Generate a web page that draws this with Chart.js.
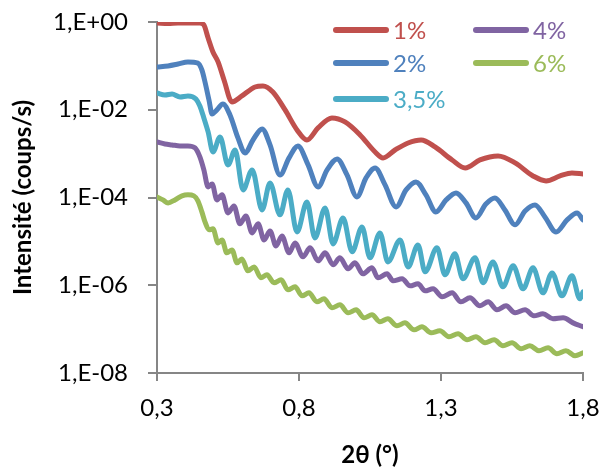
<!DOCTYPE html>
<html>
<head>
<meta charset="utf-8">
<script src="https://cdn.jsdelivr.net/npm/chart.js@4.4.1/dist/chart.umd.min.js"></script>
<style>
    html, body { margin: 0; padding: 0; background: #fff; }
    #wrap { width: 600px; height: 467px; }
</style>
</head>
<body>
<div id="wrap"><canvas id="xrrChart" width="600" height="467"></canvas></div>
<script>
// Series labels and colours (Excel palette)
const seriesLabels = ['1%', '2%', '3,5%', '4%', '6%'];
const seriesColors = ['#C0504D', '#4F81BD', '#4BACC6', '#8064A2', '#9BBB59'];

// Axis ticks
const xTickValues = [0.3, 0.8, 1.3, 1.8];
const xTickLabels = ['0,3', '0,8', '1,3', '1,8'];
const yTickValues = [1e-8, 1e-6, 1e-4, 1e-2, 1];
const yTickLabels = ['1,E-08', '1,E-06', '1,E-04', '1,E-02', '1,E+00'];

// 1 %
const x1 = [0.300, 0.339, 0.374, 0.416, 0.451, 0.465, 0.480, 0.497, 0.515, 0.536, 0.564, 0.599, 0.645, 0.673, 0.708, 0.751, 0.793, 0.828, 0.867, 0.916,
    0.962, 1.015, 1.068, 1.096, 1.138, 1.184, 1.230, 1.279, 1.339, 1.385, 1.437, 1.501, 1.561, 1.624, 1.670, 1.719, 1.761, 1.800];
const i1 = [0.95, 0.93, 0.95, 0.95, 0.95, 0.855, 0.432, 0.207, 0.123, 0.0477, 0.0151, 0.0206, 0.033, 0.0348, 0.0254, 0.00989, 0.00347, 0.00205, 0.00385, 0.0065,
    0.00527, 0.00267, 0.00109, 0.000798, 0.00121, 0.00175, 0.00205, 0.00142, 0.000718, 0.000472, 0.000718, 0.000887, 0.000614, 0.00031, 0.000239, 0.00031, 0.000363, 0.000345];

// 2 %
const x2 = [0.300, 0.339, 0.374, 0.409, 0.444, 0.458, 0.469, 0.483, 0.494, 0.511, 0.532, 0.557, 0.585, 0.610, 0.638, 0.670, 0.698, 0.733, 0.765, 0.796,
    0.832, 0.867, 0.899, 0.934, 0.969, 1.004, 1.036, 1.068, 1.103, 1.142, 1.177, 1.212, 1.247, 1.282, 1.318, 1.353, 1.388, 1.423, 1.458, 1.490,
    1.525, 1.561, 1.596, 1.631, 1.666, 1.705, 1.744, 1.779, 1.800];
const i2 = [0.0944, 0.0995, 0.110, 0.123, 0.116, 0.0807, 0.043, 0.0167, 0.00802, 0.00989, 0.0136, 0.00762, 0.00228, 0.00104, 0.00205, 0.00366, 0.00158, 0.000327, 0.000798, 0.0015,
    0.000553, 0.000174, 0.000426, 0.000757, 0.000327, 0.000103, 0.000279, 0.000472, 0.000194, 6.11e-5, 0.000149, 0.000226, 0.000115, 4.7e-5, 8.81e-5, 0.000127, 7.53e-5, 3.43e-5, 7.15e-5, 9.8e-5,
    5.22e-5, 2.38e-5, 4.95e-5, 6.78e-5, 3.61e-5, 1.64e-5, 3.09e-5, 4.46e-5, 3.09e-5];

// 3,5 %
const x35 = [0.300, 0.328, 0.353, 0.381, 0.409, 0.437, 0.451, 0.465, 0.480, 0.497, 0.522, 0.550, 0.575, 0.603, 0.635, 0.670, 0.698, 0.733, 0.761, 0.793,
    0.828, 0.856, 0.892, 0.920, 0.955, 0.987, 1.022, 1.050, 1.085, 1.113, 1.156, 1.184, 1.219, 1.244, 1.286, 1.314, 1.349, 1.377, 1.420, 1.448,
    1.483, 1.518, 1.554, 1.589, 1.624, 1.659, 1.691, 1.726, 1.761, 1.789, 1.800];
const i35 = [0.0241, 0.0217, 0.0229, 0.0196, 0.0206, 0.0176, 0.0122, 0.0065, 0.00312, 0.00109, 0.0024, 0.000553, 0.00121, 0.000149, 0.000426, 5.22e-5, 0.000215, 4.02e-5, 0.000149, 1.64e-5,
    7.94e-5, 1.2e-5, 5.79e-5, 8.77e-6, 3.43e-5, 5.77e-6, 2.14e-5, 4.21e-6, 1.56e-5, 3.41e-6, 1.08e-5, 2.62e-6, 8.32e-6, 2.02e-6, 7.11e-6, 1.73e-6, 5.19e-6, 1.4e-6, 4.21e-6, 1.14e-6,
    3.41e-6, 9.2e-7, 2.77e-6, 8.28e-7, 2.49e-6, 6.71e-7, 1.91e-6, 5.74e-7, 1.64e-6, 4.9e-7, 7.08e-7];

// 4 %
const x4 = [0.300, 0.328, 0.353, 0.381, 0.409, 0.434, 0.451, 0.465, 0.480, 0.494, 0.511, 0.529, 0.550, 0.571, 0.592, 0.613, 0.635, 0.656, 0.677, 0.698,
    0.719, 0.740, 0.765, 0.786, 0.814, 0.839, 0.867, 0.892, 0.920, 0.944, 0.973, 0.997, 1.025, 1.057, 1.078, 1.110, 1.131, 1.163, 1.191, 1.219,
    1.244, 1.272, 1.304, 1.339, 1.370, 1.402, 1.437, 1.466, 1.497, 1.529, 1.561, 1.596, 1.627, 1.659, 1.694, 1.730, 1.765, 1.800];
const i4 = [1.85e-3, 1.66e-3, 1.58e-3, 1.50e-3, 1.50e-3, 1.35e-3, 8.41e-4, 4.26e-4, 1.74e-4, 2.04e-4, 8.81e-5, 1.15e-4, 4.46e-5, 6.44e-5, 2.51e-5, 3.81e-5, 1.56e-5, 2.51e-5, 1.08e-5, 1.73e-5,
    7.89e-6, 1.33e-5, 5.47e-6, 9.24e-6, 4.44e-6, 7.11e-6, 3.6e-6, 5.47e-6, 2.92e-6, 4.21e-6, 2.37e-6, 3.24e-6, 1.82e-6, 2.49e-6, 1.48e-6, 1.82e-6, 1.26e-6, 1.40e-6, 9.68e-7, 1.08e-6,
    7.45e-7, 8.28e-7, 5.44e-7, 6.71e-7, 4.19e-7, 5.16e-7, 3.40e-7, 4.19e-7, 2.75e-7, 3.40e-7, 2.35e-7, 2.75e-7, 2.01e-7, 2.23e-7, 1.72e-7, 1.81e-7, 1.39e-7, 1.13e-7];

// 6 %
const x6 = [0.300, 0.321, 0.339, 0.363, 0.388, 0.409, 0.430, 0.444, 0.458, 0.469, 0.483, 0.497, 0.515, 0.529, 0.546, 0.564, 0.582, 0.599, 0.620, 0.642,
    0.666, 0.687, 0.712, 0.737, 0.761, 0.786, 0.811, 0.835, 0.863, 0.888, 0.916, 0.944, 0.973, 1.001, 1.029, 1.057, 1.085, 1.113, 1.145, 1.173,
    1.205, 1.233, 1.265, 1.296, 1.328, 1.360, 1.392, 1.423, 1.455, 1.487, 1.518, 1.550, 1.582, 1.613, 1.645, 1.677, 1.708, 1.740, 1.772, 1.800];
const i6 = [1.03e-4, 8.81e-5, 7.53e-5, 8.81e-5, 1.09e-4, 1.15e-4, 1.09e-4, 8.37e-5, 4.70e-5, 2.78e-5, 1.83e-5, 1.93e-5, 9.24e-6, 1.08e-5, 5.47e-6, 6.40e-6, 3.24e-6, 3.99e-6, 2.13e-6, 2.62e-6,
    1.48e-6, 1.73e-6, 1.14e-6, 1.33e-6, 7.85e-7, 9.20e-7, 5.74e-7, 6.71e-7, 4.19e-7, 4.90e-7, 3.06e-7, 3.58e-7, 2.35e-7, 2.75e-7, 1.81e-7, 2.12e-7, 1.47e-7, 1.72e-7, 1.19e-7, 1.39e-7,
    9.64e-8, 1.13e-7, 8.24e-8, 9.14e-8, 6.68e-8, 7.82e-8, 5.70e-8, 6.68e-8, 4.88e-8, 5.70e-8, 4.17e-8, 4.88e-8, 3.56e-8, 4.17e-8, 3.21e-8, 3.75e-8, 2.74e-8, 3.21e-8, 2.47e-8, 2.88e-8];

const seriesX = [x1, x2, x35, x4, x6];
const seriesI = [i1, i2, i35, i4, i6];

class XrrChart {
    constructor() {
        this.chart = null;
        this.init();
    }

    init() {
        Chart.defaults.font.family = 'Lato, "Open Sans", sans-serif';
        this.initChart();
    }

    buildDatasets() {
        return seriesLabels.map((label, k) => {
            const xs = seriesX[k];
            const ys = seriesI[k];
            const n = Math.min(xs.length, ys.length);
            const points = [];
            for (let j = 0; j < n; j++) {
                points.push({ x: xs[j], y: ys[j] });
            }
            return {
                label: label,
                data: points,
                borderColor: seriesColors[k],
                backgroundColor: seriesColors[k],
                borderWidth: 5,
                pointRadius: 0,
                fill: false,
                cubicInterpolationMode: 'monotone',
                borderCapStyle: 'round',
                borderJoinStyle: 'round'
            };
        });
    }

    // Legend drawn inside the plot, two columns like the original
    legendPlugin() {
        const slots = [[0, 333, 30], [1, 333, 63], [2, 333, 99], [3, 473, 30], [4, 473, 63]];
        return {
            id: 'insideLegend',
            afterDraw(chart) {
                const ctx = chart.ctx;
                ctx.save();
                ctx.font = '24px Lato, "Open Sans", sans-serif';
                ctx.textBaseline = 'middle';
                ctx.lineCap = 'round';
                ctx.lineWidth = 6;
                slots.forEach(([k, x, y]) => {
                    ctx.strokeStyle = seriesColors[k];
                    ctx.beginPath();
                    ctx.moveTo(x + 3, y);
                    ctx.lineTo(x + 53, y);
                    ctx.stroke();
                    ctx.fillStyle = seriesColors[k];
                    ctx.fillText(seriesLabels[k], x + 60, y + 1);
                });
                ctx.restore();
            }
        };
    }

    initChart() {
        const ctx = document.getElementById('xrrChart');
        if (!ctx) return;

        const axisGray = '#868686';
        const tickFont = { size: 24 };
        const titleFont = { size: 24, weight: 'bold' };
        // no extra room for edge labels, layout padding decides the plot box
        const noEdgePadding = (scale) => {
            scale.paddingTop = 0;
            scale.paddingBottom = 0;
            scale.paddingLeft = 0;
            scale.paddingRight = 0;
        };

        this.chart = new Chart(ctx, {
            type: 'line',
            data: { datasets: this.buildDatasets() },
            plugins: [this.legendPlugin()],
            options: {
                responsive: false,
                animation: false,
                layout: { padding: { top: 22, right: 17, left: 0, bottom: 0 } },
                plugins: {
                    legend: { display: false },
                    tooltip: { enabled: false }
                },
                scales: {
                    x: {
                        type: 'linear',
                        min: 0.3,
                        max: 1.8,
                        afterBuildTicks: (scale) => {
                            scale.ticks = xTickValues.map(v => ({ value: v }));
                        },
                        afterFit: (scale) => {
                            scale.height = 94;
                            noEdgePadding(scale);
                        },
                        grid: { drawOnChartArea: false, drawTicks: true, tickLength: 8, color: axisGray, lineWidth: 2 },
                        border: { color: axisGray, width: 2 },
                        ticks: {
                            font: tickFont,
                            color: '#000',
                            padding: 13,
                            maxRotation: 0,
                            autoSkip: false,
                            callback: (value, index) => xTickLabels[index]
                        },
                        title: { display: true, text: '2θ (°)', font: titleFont, color: '#000', padding: { top: 0, bottom: -3 } }
                    },
                    y: {
                        type: 'logarithmic',
                        min: 1e-8,
                        max: 1,
                        afterBuildTicks: (scale) => {
                            scale.ticks = yTickValues.map(v => ({ value: v }));
                        },
                        afterFit: (scale) => {
                            scale.width = 157;
                            noEdgePadding(scale);
                        },
                        grid: { drawOnChartArea: false, drawTicks: true, tickLength: 9, color: axisGray, lineWidth: 2 },
                        border: { color: axisGray, width: 2 },
                        ticks: {
                            font: tickFont,
                            color: '#000',
                            padding: 20,
                            autoSkip: false,
                            callback: (value, index) => yTickLabels[index]
                        },
                        title: { display: true, text: 'Intensité (coups/s)', font: titleFont, color: '#000', padding: { top: 9, bottom: 0 } }
                    }
                }
            }
        });
    }
}

document.addEventListener('DOMContentLoaded', function() {
    window.xrrChart = new XrrChart();
});
</script>
</body>
</html>
